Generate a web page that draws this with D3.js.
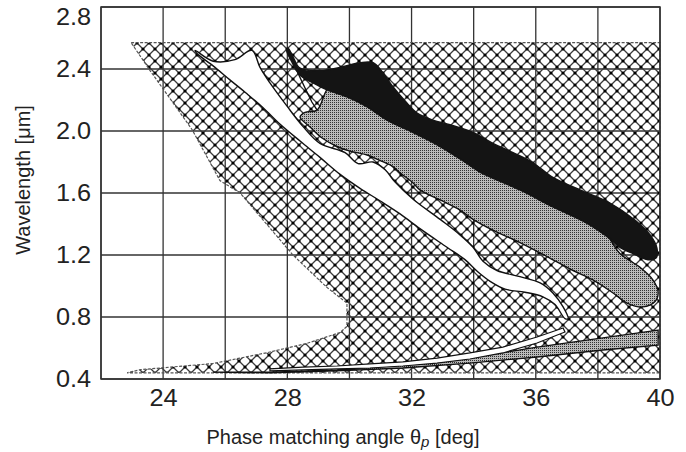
<!DOCTYPE html>
<html>
<head>
<meta charset="utf-8">
<script src="https://cdn.jsdelivr.net/npm/d3@7"></script>
<style>
  body { margin: 0; background: #fff; }
</style>
</head>
<body>
<script>
  var w = 686;
  var h = 452;
  var margin = {top: 7, right: 26, bottom: 73, left: 101};

  // axis values
  var xTicks = [24, 28, 32, 36, 40];
  var xGrid = [22, 24, 26, 28, 30, 32, 34, 36, 38, 40];
  var yTicks = [0.4, 0.8, 1.2, 1.6, 2.0, 2.4, 2.8];

  // regions, [angle deg, wavelength um]
  var hatchRegion = [
    [22.97, 2.57], [40, 2.57], [40, 0.44], [22.84, 0.44], [23.26, 0.46],
    [25.61, 0.50], [27.35, 0.57], [28.63, 0.63], [29.70, 0.70], [29.92, 0.74],
    [29.92, 0.89], [29.28, 0.99], [28.18, 1.20], [26.48, 1.60], [25.83, 1.68],
    [24.93, 2.01], [23.58, 2.39]
  ];

  var whiteBand = [
    [25.03, 2.52], [25.61, 2.45], [26.31, 2.46], [26.86, 2.52], [27.12, 2.41],
    [27.44, 2.31], [27.99, 2.16], [28.50, 2.03], [29.05, 1.92], [29.86, 1.86],
    [30.28, 1.79], [30.76, 1.80], [31.15, 1.75], [31.47, 1.67], [32.05, 1.56],
    [32.92, 1.43], [33.56, 1.33], [33.98, 1.25], [34.30, 1.16], [34.75, 1.10],
    [35.49, 1.06], [36.14, 1.02], [36.55, 0.955], [36.88, 0.865], [37.04, 0.79],
    [36.94, 0.79], [36.62, 0.88], [36.23, 0.93], [35.65, 0.96], [35.01, 0.98],
    [34.53, 1.03], [34.14, 1.09], [33.72, 1.17], [33.14, 1.25], [32.27, 1.37],
    [31.63, 1.465], [30.98, 1.55], [30.34, 1.63], [29.70, 1.72], [29.05, 1.83],
    [28.41, 1.935], [27.76, 2.045], [27.22, 2.15], [26.70, 2.24], [26.15, 2.33],
    [25.61, 2.42], [25.09, 2.50]
  ];

  var grayRegion = [
    [29.37, 2.29], [29.92, 2.25], [30.57, 2.19], [31.21, 2.116], [32.05, 2.03],
    [32.92, 1.94], [33.79, 1.845], [34.20, 1.794], [35.49, 1.68], [36.55, 1.57],
    [37.65, 1.46], [38.23, 1.35], [38.71, 1.21], [39.36, 1.12], [39.77, 1.04],
    [39.94, 0.96], [39.84, 0.90], [39.45, 0.865], [38.94, 0.89], [38.49, 0.955],
    [37.84, 1.04], [37.20, 1.10], [36.36, 1.19], [35.49, 1.28], [34.62, 1.36],
    [33.98, 1.43], [33.56, 1.49], [32.92, 1.555], [32.27, 1.62], [32.05, 1.665],
    [31.63, 1.73], [31.40, 1.77], [30.98, 1.81], [30.57, 1.845], [30.02, 1.87],
    [29.60, 1.90], [29.12, 1.955], [28.73, 2.026], [28.41, 2.09], [28.57, 2.12],
    [28.96, 2.135]
  ];

  var blackRegion = [
    [28.02, 2.535], [28.20, 2.47], [28.41, 2.405], [29.05, 2.39], [29.70, 2.41],
    [30.34, 2.44], [30.76, 2.44], [31.08, 2.375], [31.40, 2.285], [31.85, 2.18],
    [32.18, 2.115], [32.69, 2.07], [33.24, 2.04], [33.98, 1.99], [34.62, 1.92],
    [35.27, 1.86], [35.91, 1.795], [36.55, 1.70], [37.42, 1.62], [38.39, 1.535],
    [39.19, 1.425], [39.68, 1.33], [39.90, 1.245], [39.87, 1.18], [39.61, 1.17],
    [39.13, 1.21], [38.71, 1.25], [38.29, 1.32], [37.65, 1.405], [36.55, 1.51],
    [35.49, 1.62], [34.20, 1.735], [33.79, 1.79], [32.92, 1.90], [32.05, 1.99],
    [31.21, 2.07], [30.57, 2.155], [29.92, 2.22], [29.28, 2.265], [28.83, 2.31],
    [28.41, 2.36], [28.15, 2.445], [27.98, 2.52]
  ];

  var pocketEdge = [[28.34, 2.374], [28.57, 2.277], [28.79, 2.187], [28.96, 2.135]];

  var graySliver = [
    [39.94, 0.716], [38.16, 0.665], [36.04, 0.606], [33.88, 0.535], [31.72, 0.49],
    [29.60, 0.458], [27.44, 0.445], [25.61, 0.445], [27.44, 0.439], [29.60, 0.452],
    [31.72, 0.471], [33.88, 0.503], [36.04, 0.542], [38.16, 0.587], [39.94, 0.619]
  ];

  var whiteSliver = [
    [36.88, 0.729], [36.04, 0.671], [34.94, 0.606], [33.88, 0.568], [32.82, 0.535],
    [31.72, 0.510], [30.66, 0.497], [29.60, 0.484], [28.50, 0.477], [27.44, 0.465],
    [27.44, 0.452], [29.60, 0.465], [30.66, 0.471], [31.72, 0.484], [32.82, 0.503],
    [33.88, 0.529], [34.94, 0.568], [36.04, 0.632], [36.94, 0.703]
  ];

  var width = w - margin.left - margin.right;
  var height = h - margin.top - margin.bottom;

  var x = d3.scaleLinear().domain([22, 40]).range([margin.left, margin.left + width]);
  var y = d3.scaleLinear().domain([0.4, 2.8]).range([margin.top + height, margin.top]);

  var svg = d3.select("body").append("svg")
    .attr("width", w)
    .attr("height", h);

  var defs = svg.append("defs");

  // diamond cross-hatch with dots at the crossings
  var hatch = defs.append("pattern")
    .attr("id", "xhatch")
    .attr("patternUnits", "userSpaceOnUse")
    .attr("width", 12)
    .attr("height", 12)
    .attr("patternTransform", "translate(" + margin.left + "," + margin.top + ")");
  hatch.append("path")
    .attr("d", "M0,0L12,12M12,0L0,12")
    .attr("stroke", "#3a3a3a")
    .attr("stroke-width", 1.3);
  hatch.selectAll("circle")
    .data([[0, 0], [12, 0], [0, 12], [12, 12], [6, 6]])
    .enter().append("circle")
    .attr("cx", function (d) { return d[0]; })
    .attr("cy", function (d) { return d[1]; })
    .attr("r", 1.6)
    .attr("fill", "#000");

  // fine dotted gray
  var dots = defs.append("pattern")
    .attr("id", "dots")
    .attr("patternUnits", "userSpaceOnUse")
    .attr("width", 2)
    .attr("height", 2);
  dots.append("rect").attr("width", 2).attr("height", 2).attr("fill", "#bababa");
  dots.append("rect").attr("width", 1).attr("height", 1).attr("fill", "#333");

  var smooth = d3.line()
    .x(function (d) { return x(d[0]); })
    .y(function (d) { return y(d[1]); })
    .curve(d3.curveCatmullRomClosed.alpha(0.5));

  var poly = d3.line()
    .x(function (d) { return x(d[0]); })
    .y(function (d) { return y(d[1]); })
    .curve(d3.curveLinearClosed);

  var open = d3.line()
    .x(function (d) { return x(d[0]); })
    .y(function (d) { return y(d[1]); });

  // grid
  svg.append("g").selectAll("line")
    .data(xGrid)
    .enter().append("line")
    .attr("x1", function (d) { return x(d); })
    .attr("x2", function (d) { return x(d); })
    .attr("y1", y(0.4))
    .attr("y2", y(2.8))
    .attr("stroke", "#333")
    .attr("stroke-width", 1.3);

  svg.append("g").selectAll("line")
    .data(yTicks)
    .enter().append("line")
    .attr("x1", x(22))
    .attr("x2", x(40))
    .attr("y1", function (d) { return y(d); })
    .attr("y2", function (d) { return y(d); })
    .attr("stroke", "#333")
    .attr("stroke-width", 1.3);

  // regions
  svg.append("path")
    .attr("d", poly(hatchRegion))
    .attr("fill", "url(#xhatch)")
    .attr("stroke", "#555")
    .attr("stroke-width", 1.2)
    .attr("stroke-dasharray", "3,1.5");

  svg.append("path")
    .attr("d", smooth(grayRegion))
    .attr("fill", "url(#dots)")
    .attr("stroke", "#111")
    .attr("stroke-width", 1.4);

  svg.append("path")
    .attr("d", smooth(blackRegion))
    .attr("fill", "#141414")
    .attr("stroke", "#141414")
    .attr("stroke-width", 1.5);

  svg.append("path")
    .attr("d", smooth(whiteBand))
    .attr("fill", "#fff")
    .attr("stroke", "#111")
    .attr("stroke-width", 1.4);

  svg.append("path")
    .attr("d", open(pocketEdge))
    .attr("fill", "none")
    .attr("stroke", "#111")
    .attr("stroke-width", 1.4);

  svg.append("path")
    .attr("d", poly(graySliver))
    .attr("fill", "url(#dots)")
    .attr("stroke", "#111")
    .attr("stroke-width", 1.3);

  svg.append("path")
    .attr("d", poly(whiteSliver))
    .attr("fill", "#fff")
    .attr("stroke", "#111")
    .attr("stroke-width", 1.2);

  // frame
  svg.append("rect")
    .attr("x", x(22))
    .attr("y", y(2.8))
    .attr("width", x(40) - x(22))
    .attr("height", y(0.4) - y(2.8))
    .attr("fill", "none")
    .attr("stroke", "#333")
    .attr("stroke-width", 1.5);

  // axes
  var xAxis = svg.append("g")
    .attr("transform", "translate(0," + y(0.4) + ")")
    .call(d3.axisBottom(x).tickValues(xTicks).tickSize(0).tickPadding(11).tickFormat(d3.format("d")));
  var yAxis = svg.append("g")
    .attr("transform", "translate(" + x(22) + ",0)")
    .call(d3.axisLeft(y).tickValues(yTicks).tickSize(0).tickPadding(9).tickFormat(d3.format(".1f")));

  [xAxis, yAxis].forEach(function (g) {
    g.select(".domain").remove();
    g.attr("font-family", "'Liberation Sans', Arial, sans-serif")
      .attr("font-size", 23)
      .style("color", "#222");
    g.selectAll("text").attr("transform", "scale(1.1,1)");
  });
  yAxis.selectAll("text")
    .filter(function (d) { return d === 2.8; })
    .attr("dy", "0.77em");

  // titles
  var xt = svg.append("text")
    .attr("x", 343)
    .attr("y", 444)
    .attr("text-anchor", "middle")
    .attr("font-family", "'Liberation Sans', Arial, sans-serif")
    .attr("font-size", 20)
    .attr("fill", "#222");
  xt.append("tspan").text("Phase matching angle θ");
  xt.append("tspan").attr("font-style", "italic").attr("font-size", 15).attr("dy", 3).text("p");
  xt.append("tspan").attr("dy", -3).text(" [deg]");

  svg.append("text")
    .attr("transform", "translate(30,180) rotate(-90)")
    .attr("text-anchor", "middle")
    .attr("font-family", "'Liberation Sans', Arial, sans-serif")
    .attr("font-size", 20)
    .attr("fill", "#222")
    .text("Wavelength [μm]");
</script>
</body>
</html>
